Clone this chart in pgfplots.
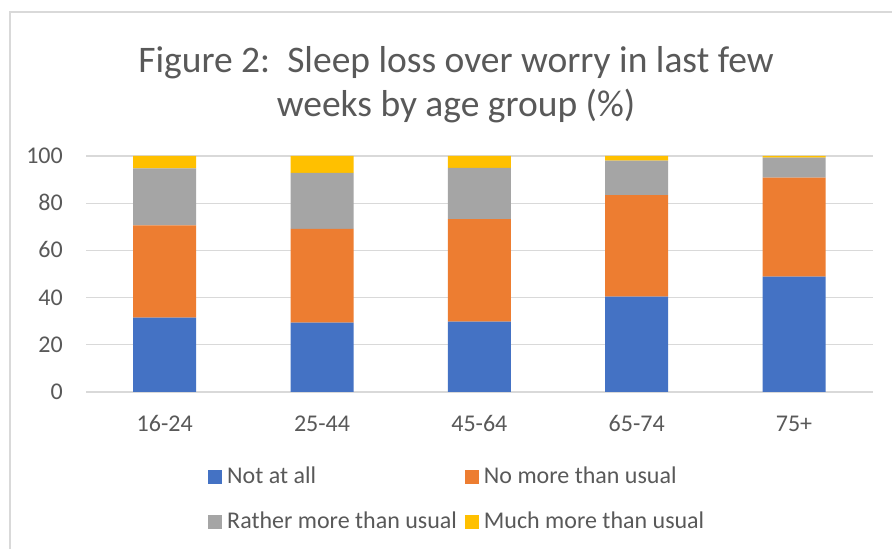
\documentclass[border=0pt]{standalone}
\usepackage{pgfplots}
\pgfplotsset{compat=1.18}
\usepackage{fontspec}
\setmainfont{Carlito}
\definecolor{cblue}{HTML}{4472C4}
\definecolor{corange}{HTML}{ED7D31}
\definecolor{cgray}{HTML}{A5A5A5}
\definecolor{cyellow}{HTML}{FFC000}
\definecolor{ctext}{HTML}{595959}
\definecolor{cgrid}{HTML}{D9D9D9}
\pgfplotsset{sqlegend/.style={legend image code/.code={\fill[#1] (0pt,-7pt) rectangle (14pt,7pt);}}}
\begin{document}
\begin{tikzpicture}[x=1pt,y=1pt]
\useasboundingbox (0,0) rectangle (892,549);
\fill[white] (0,0) rectangle (892,549);
\draw[cgrid,line width=1.5pt] (10,0) -- (10,537) -- (892,537);
\node[anchor=base,text=ctext,font=\fontsize{37.5}{44}\selectfont] at (456,549-73) {Figure 2:\ \ Sleep loss over worry in last few};
\node[anchor=base,text=ctext,font=\fontsize{37.5}{44}\selectfont] at (456,549-117) {weeks by age group (\%)};
\begin{axis}[
  at={(86pt,157pt)}, anchor=south west,
  scale only axis, width=786.7pt, height=236pt,
  xmin=-0.5, xmax=4.5, ymin=0, ymax=100,
  ybar stacked, bar width=63pt,
  xtick={0,1,2,3,4},
  xticklabels={16-24,25-44,45-64,65-74,75+},
  ytick={0,20,40,60,80,100},
  /pgf/number format/assume math mode=true,
  ymajorgrids, grid style={cgrid,line width=1.2pt},
  axis x line*=bottom, axis y line*=left,
  x axis line style={cgrid,line width=1.2pt,-},
  y axis line style={draw=none},
  major tick length=0pt,
  tick label style={text=ctext,font=\fontsize{24}{28}\selectfont,inner sep=0pt},
  xticklabel style={anchor=base,yshift=-39pt},
  yticklabel style={anchor=base east,xshift=-23pt,yshift=-7.5pt},
  legend columns=2,
  legend cell align=left,
  legend style={at={(0.1551,-0.3136)},anchor=north west,draw=none,fill=none,
    inner sep=0pt,
    font=\fontsize{24}{28}\selectfont, text=ctext,
    nodes={inner sep=0pt,text height=17pt,text depth=5pt},
    row sep=23pt,
    /tikz/every odd column/.append style={column sep=5pt},
    /tikz/every even column/.append style={column sep=8pt}},
]
\addplot[fill=cblue,draw=none,sqlegend] coordinates {(0,31.5) (1,29.4) (2,29.8) (3,40.4) (4,48.9)};
\addplot[fill=corange,draw=none,sqlegend] coordinates {(0,39.1) (1,39.7) (2,43.5) (3,43.0) (4,41.9)};
\addplot[fill=cgray,draw=none,sqlegend] coordinates {(0,24.2) (1,23.8) (2,21.7) (3,14.6) (4,8.5)};
\addplot[fill=cyellow,draw=none,sqlegend] coordinates {(0,5.2) (1,7.1) (2,5.0) (3,2.0) (4,0.7)};
\legend{Not at all,No more than usual,Rather more than usual,Much more than usual}
\end{axis}
\end{tikzpicture}
\end{document}
